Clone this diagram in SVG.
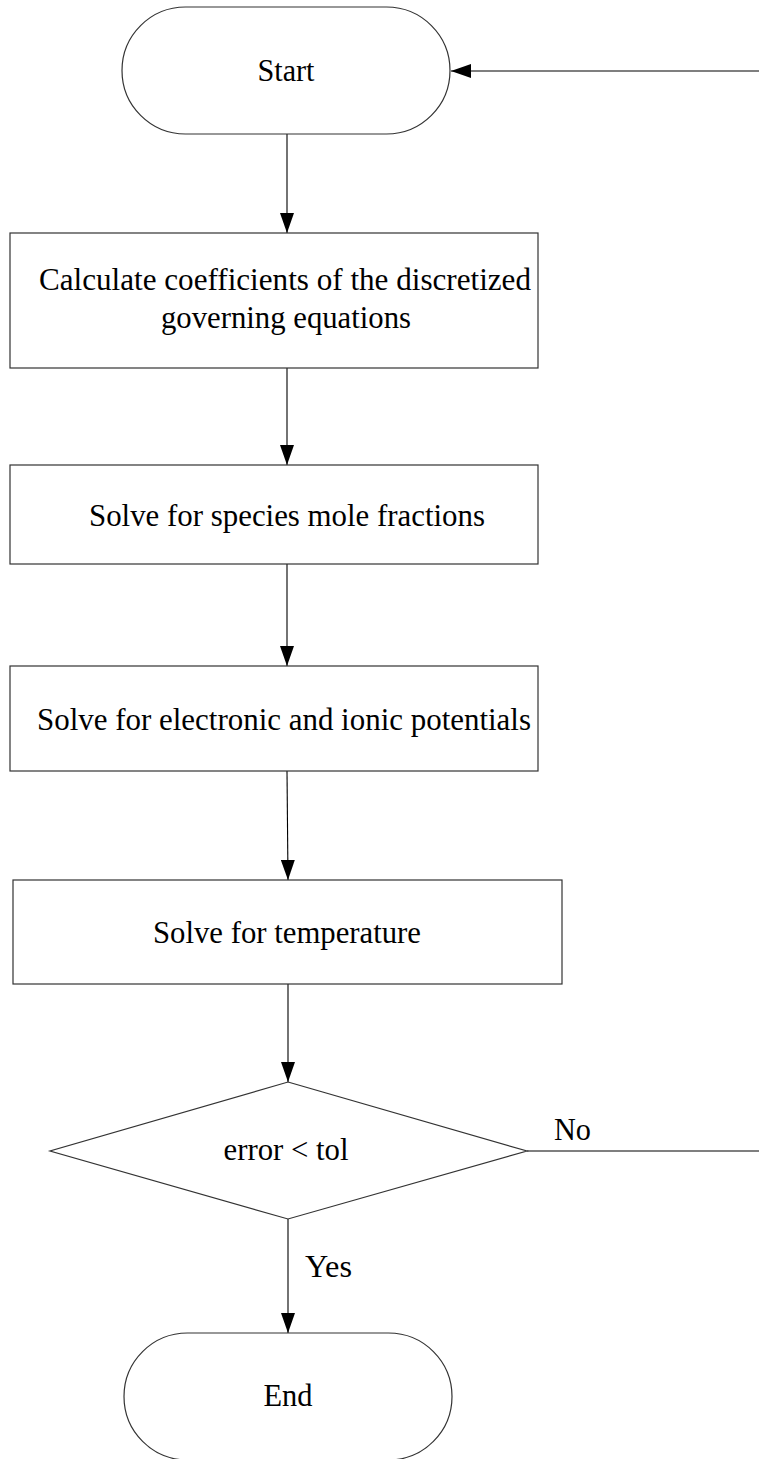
<svg xmlns="http://www.w3.org/2000/svg" width="759" height="1459" viewBox="0 0 759 1459">
<style>
.shape{fill:#fff;stroke:#333;stroke-width:1.2}
.conn{stroke:#000;stroke-width:1.1;fill:none}
.t{font-family:"Liberation Serif","Times New Roman",serif;font-size:31px;fill:#000;text-anchor:middle}
.lbl{font-family:"Liberation Serif","Times New Roman",serif;font-size:31px;fill:#000}
</style>
<defs>
<marker id="arr" markerUnits="userSpaceOnUse" markerWidth="20" markerHeight="14" refX="20" refY="7" orient="auto">
<path d="M0,0 L20,7 L0,14 z" fill="#000"/>
</marker>
</defs>
<rect width="759" height="1459" fill="#fff"/>
<g id="connectors">
<line class="conn" x1="759" y1="71" x2="451" y2="71" marker-end="url(#arr)"/>
<line class="conn" x1="287" y1="134" x2="287" y2="233" marker-end="url(#arr)"/>
<line class="conn" x1="287" y1="368" x2="287" y2="465" marker-end="url(#arr)"/>
<line class="conn" x1="287" y1="564" x2="287" y2="666" marker-end="url(#arr)"/>
<line class="conn" x1="287" y1="771" x2="288" y2="880" marker-end="url(#arr)"/>
<line class="conn" x1="288" y1="984" x2="288" y2="1082" marker-end="url(#arr)"/>
<line class="conn" x1="288" y1="1219" x2="288" y2="1333" marker-end="url(#arr)"/>
<line class="conn" x1="527" y1="1151" x2="759" y2="1151"/>
<text class="lbl" x="554" y="1140" textLength="37" lengthAdjust="spacingAndGlyphs">No</text>
<text class="lbl" x="305" y="1277" textLength="47" lengthAdjust="spacingAndGlyphs">Yes</text>
</g>
<g id="start">
<rect class="shape" x="122" y="7" width="328" height="127" rx="63.5" ry="63.5"/>
<text class="t" x="286" y="81" textLength="57" lengthAdjust="spacingAndGlyphs">Start</text>
</g>
<g id="calc">
<rect class="shape" x="10" y="233" width="528" height="135"/>
<text class="t" x="285" y="290" textLength="492" lengthAdjust="spacingAndGlyphs">Calculate coefficients of the discretized</text>
<text class="t" x="286" y="328" textLength="250" lengthAdjust="spacingAndGlyphs">governing equations</text>
</g>
<g id="species">
<rect class="shape" x="10" y="465" width="528" height="99"/>
<text class="t" x="287" y="526" textLength="396" lengthAdjust="spacingAndGlyphs">Solve for species mole fractions</text>
</g>
<g id="potentials">
<rect class="shape" x="10" y="666" width="528" height="105"/>
<text class="t" x="284" y="730" textLength="494" lengthAdjust="spacingAndGlyphs">Solve for electronic and ionic potentials</text>
</g>
<g id="temperature">
<rect class="shape" x="13" y="880" width="549" height="104"/>
<text class="t" x="287" y="943" textLength="268" lengthAdjust="spacingAndGlyphs">Solve for temperature</text>
</g>
<g id="decision">
<polygon class="shape" points="288,1082 527,1151 288,1219 50,1151"/>
<text class="t" x="286" y="1160" textLength="125" lengthAdjust="spacingAndGlyphs">error &lt; tol</text>
</g>
<g id="end">
<rect class="shape" x="124" y="1333" width="328" height="127" rx="63.5" ry="63.5"/>
<text class="t" x="288" y="1406" textLength="49" lengthAdjust="spacingAndGlyphs">End</text>
</g>
</svg>
